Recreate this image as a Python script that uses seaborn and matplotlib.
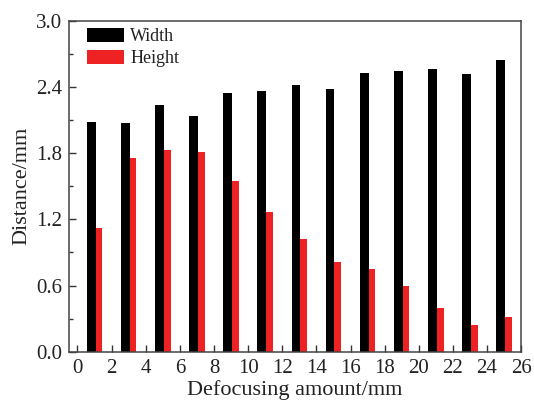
import matplotlib
matplotlib.use('Agg')
import matplotlib.pyplot as plt
from matplotlib.ticker import MultipleLocator, FormatStrFormatter
import seaborn as sns
import pandas as pd

# Данные
defocus = [1, 3, 5, 7, 9, 11, 13, 15, 17, 19, 21, 23, 25]
width = [2.085, 2.076, 2.24, 2.14, 2.35, 2.36, 2.42, 2.38, 2.53, 2.545, 2.566, 2.52, 2.645]
height = [1.124, 1.753, 1.83, 1.813, 1.545, 1.267, 1.022, 0.816, 0.75, 0.596, 0.396, 0.242, 0.317]
series = ['Width', 'Height']
colors = ['#000000', '#ee2222']

df = pd.DataFrame({
    'defocus': defocus * 2,
    'value': width + height,
    'series': [series[0]] * len(width) + [series[1]] * len(height),
})

sns.set_style('ticks')
plt.rcParams['font.family'] = ['Liberation Serif', 'DejaVu Serif']

fig = plt.figure(figsize=(5.34, 4.08), dpi=100)
ax = fig.add_axes([0.129, 0.138, 0.847, 0.811])

sns.barplot(data=df, x='defocus', y='value', hue='series', hue_order=series,
            palette=colors, native_scale=True, dodge=True, width=0.455,
            saturation=1, edgecolor='none', linewidth=0, ax=ax)

# Черные столбцы чуть шире, красные чуть уже
n = len(defocus)
for p in ax.patches[:n]:
    p.set_width(p.get_width() + 0.06)
for p in ax.patches[n:2 * n]:
    p.set_x(p.get_x() + 0.06)
    p.set_width(p.get_width() - 0.06)

ax.set_xlim(-0.5, 26)
ax.set_ylim(0, 3.0)
ax.xaxis.set_major_locator(MultipleLocator(2))
ax.yaxis.set_major_locator(MultipleLocator(0.6))
ax.yaxis.set_minor_locator(MultipleLocator(0.3))
ax.yaxis.set_major_formatter(FormatStrFormatter('%.1f'))
ax.tick_params(axis='both', which='major', direction='in', length=5, width=1,
               labelsize=15, colors='#333333', labelcolor='#222222', pad=5)
ax.tick_params(axis='y', which='minor', direction='in', length=3, width=1, colors='#333333')

for s in ax.spines.values():
    s.set_visible(True)
    s.set_linewidth(1.1)
    s.set_color('#444444')

ax.set_xlabel('Defocusing amount/mm', fontsize=16, color='#222222', labelpad=2)
ax.set_ylabel('Distance/mm', fontsize=16, color='#222222', labelpad=3)

leg = ax.legend(loc='upper left', bbox_to_anchor=(0.024, 1.0), borderaxespad=0,
                frameon=False, fontsize=13, handlelength=2.05, handleheight=0.78,
                handletextpad=0.35, labelspacing=0.28)
for t in leg.get_texts():
    t.set_color('#222222')

fig.savefig('out.png', dpi=100)
